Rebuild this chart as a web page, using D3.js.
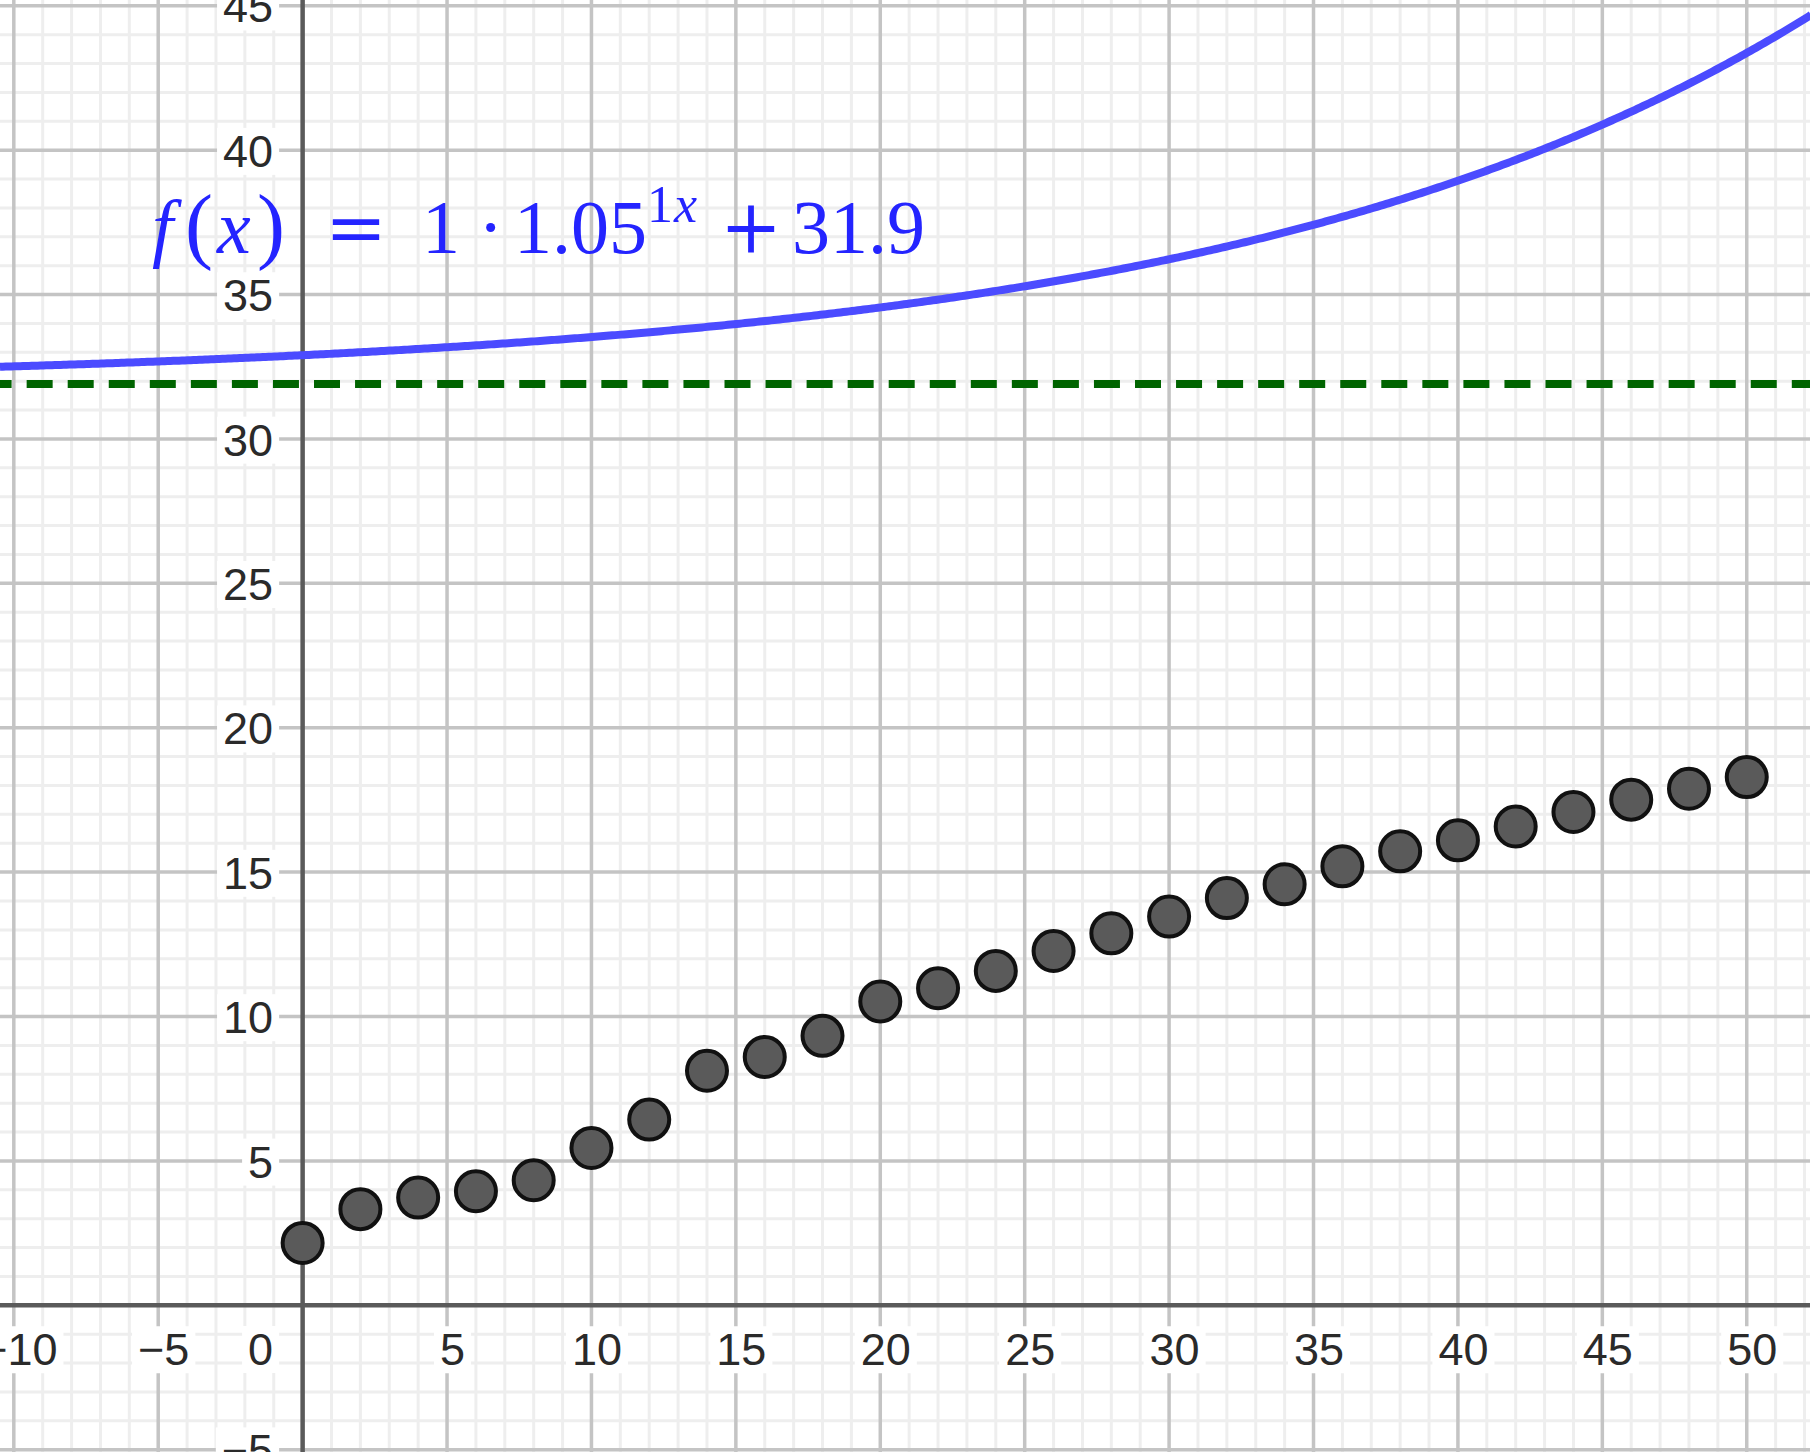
<!DOCTYPE html>
<html><head><meta charset="utf-8">
<script src="https://cdn.jsdelivr.net/npm/d3@7"></script>
<style>html,body{margin:0;padding:0;background:#fff;overflow:hidden}</style>
</head><body><svg id="c" width="1810" height="1452"></svg>
<script>
// ---- data ----
const xDomain = [-10.478, 52.19];
const yDomain = [-5.08, 45.2];
const pointX = [0,2,4,6,8,10,12,14,16,18,20,22,24,26,28,30,32,34,36,38,40,42,44,46,48,50];
const pointY = [2.16,3.33,3.73,3.95,4.33,5.45,6.43,8.12,8.6,9.33,10.52,10.98,11.58,12.27,12.88,13.46,14.1,14.58,15.2,15.72,16.1,16.58,17.08,17.51,17.89,18.29];
const xTickValues = [-10,-5,5,10,15,20,25,30,35,40,45,50];
const yTickValues = [-5,5,10,15,20,25,30,35,40,45];
const originLabel = "0";
// f(x) = a · b^(k·x) + c
const fA = 1, fB = 1.05, fK = 1, fC = 31.9;
const asymptoteY = 31.9;

const W = 1810, H = 1452;
const svg = d3.select("#c");
const x = d3.scaleLinear().domain(xDomain).range([0, W]);
const y = d3.scaleLinear().domain(yDomain).range([H, 0]);

// ---- grid ----
const g = svg.append("g");
const minorX = d3.range(Math.ceil(xDomain[0]), Math.floor(xDomain[1]) + 1).filter(v => v % 5 !== 0);
const minorY = d3.range(Math.ceil(yDomain[0]), Math.floor(yDomain[1]) + 1).filter(v => v % 5 !== 0);
const majorX = d3.range(Math.ceil(xDomain[0]/5)*5, xDomain[1], 5).filter(v => v !== 0);
const majorY = d3.range(Math.ceil(yDomain[0]/5)*5, yDomain[1], 5).filter(v => v !== 0);
g.selectAll(".mnx").data(minorX).join("line").attr("x1", d=>x(d)).attr("x2", d=>x(d)).attr("y1",0).attr("y2",H)
  .attr("stroke","#eeeeee").attr("stroke-width",3);
g.selectAll(".mny").data(minorY).join("line").attr("y1", d=>y(d)).attr("y2", d=>y(d)).attr("x1",0).attr("x2",W)
  .attr("stroke","#eeeeee").attr("stroke-width",3);
g.selectAll(".mjx").data(majorX).join("line").attr("x1", d=>x(d)).attr("x2", d=>x(d)).attr("y1",0).attr("y2",H)
  .attr("stroke","#c4c4c4").attr("stroke-width",3.5);
g.selectAll(".mjy").data(majorY).join("line").attr("y1", d=>y(d)).attr("y2", d=>y(d)).attr("x1",0).attr("x2",W)
  .attr("stroke","#c4c4c4").attr("stroke-width",3.5);

// ---- axes ----
const fmt = d3.format("d");
const xAxis = svg.append("g").attr("transform", `translate(0,${y(0)})`)
  .call(d3.axisBottom(x).tickValues(xTickValues).tickSize(0).tickPadding(28).tickFormat(fmt));
const yAxis = svg.append("g").attr("transform", `translate(${x(0)},0)`)
  .call(d3.axisLeft(y).tickValues(yTickValues).tickSize(0).tickPadding(29.5).tickFormat(fmt));
[xAxis, yAxis].forEach(a => {
  a.select(".domain").remove();
  a.selectAll("text").attr("font-family","'Liberation Sans', Arial, sans-serif").attr("font-size",45)
    .attr("fill","#2a2a2a");
});
xAxis.selectAll("text").attr("dx", 5);
yAxis.selectAll("text").attr("dy", "0.36em");
// origin label
yAxis.append("text").attr("x", -29.5).attr("y", 1365).attr("text-anchor","end")
  .attr("font-family","'Liberation Sans', Arial, sans-serif").attr("font-size",45).attr("fill","#2a2a2a")
  .text(originLabel);
// white label backgrounds
[xAxis, yAxis].forEach(a => {
  a.selectAll("text").each(function(){
    const b = this.getBBox();
    const node = this;
    d3.select(this.parentNode).insert("rect", () => node)
      .attr("x", b.x - 6).attr("y", b.y + 2).attr("width", b.width + 12).attr("height", b.height - 4)
      .attr("fill","#fff");
  });
});
// axis lines
svg.append("line").attr("x1",0).attr("x2",W).attr("y1",y(0)).attr("y2",y(0)).attr("stroke","#5a5a5a").attr("stroke-width",4.5);
svg.append("line").attr("x1",x(0)).attr("x2",x(0)).attr("y1",0).attr("y2",H).attr("stroke","#5a5a5a").attr("stroke-width",4.5);

// ---- asymptote ----
svg.append("line").attr("x1",0).attr("x2",W).attr("y1",y(asymptoteY)).attr("y2",y(asymptoteY))
  .attr("stroke","#006400").attr("stroke-width",8).attr("stroke-dasharray","26 15.05").attr("stroke-dashoffset",14.4);

// ---- function curve ----
const f = t => fA * Math.pow(fB, fK * t) + fC;
const samples = d3.range(xDomain[0], xDomain[1] + 0.1, 0.1);
svg.append("path").datum(samples)
  .attr("d", d3.line().x(d => x(d)).y(d => y(f(d))))
  .attr("fill","none").attr("stroke","#4b4bff").attr("stroke-width",8).attr("stroke-linejoin","round");

// ---- points ----
svg.selectAll(".pt").data(pointX.map((v,i)=>[v, pointY[i]])).join("circle")
  .attr("cx", d=>x(d[0])).attr("cy", d=>y(d[1])).attr("r",20)
  .attr("fill","#5a5a5a").attr("stroke","#111").attr("stroke-width",4);

// ---- formula label ----
const blue = "#2424ff";
const serif = "'Liberation Serif', 'Times New Roman', serif";
const base = 253, supBase = 222;
const parts = [
  {t:"f", x:152, it:true, fs:76},
  {t:"(", x:185, fs:84},
  {t:"x", x:217, it:true, fs:76},
  {t:")", x:257, fs:84},
  {t:"=", x:325, fs:74, ff:"'DejaVu Serif', serif"},
  {t:"1", x:422, fs:76},
  {t:"·", x:478, fs:76},
  {t:"1.05", x:514, fs:76},
  {t:"1", x:647, fs:52, b:supBase},
  {t:"x", x:674, it:true, fs:52, b:supBase},
  {t:"+", x:720, fs:74, ff:"'DejaVu Serif', serif"},
  {t:"31.9", x:792, fs:76}
];
svg.append("g").selectAll("text").data(parts).join("text")
  .attr("x", d=>d.x).attr("y", d=>d.b || base)
  .attr("font-family", d=>d.ff || serif).attr("font-size", d=>d.fs)
  .attr("font-style", d=>d.it ? "italic" : "normal").attr("fill", blue)
  .text(d=>d.t);
</script></body></html>
